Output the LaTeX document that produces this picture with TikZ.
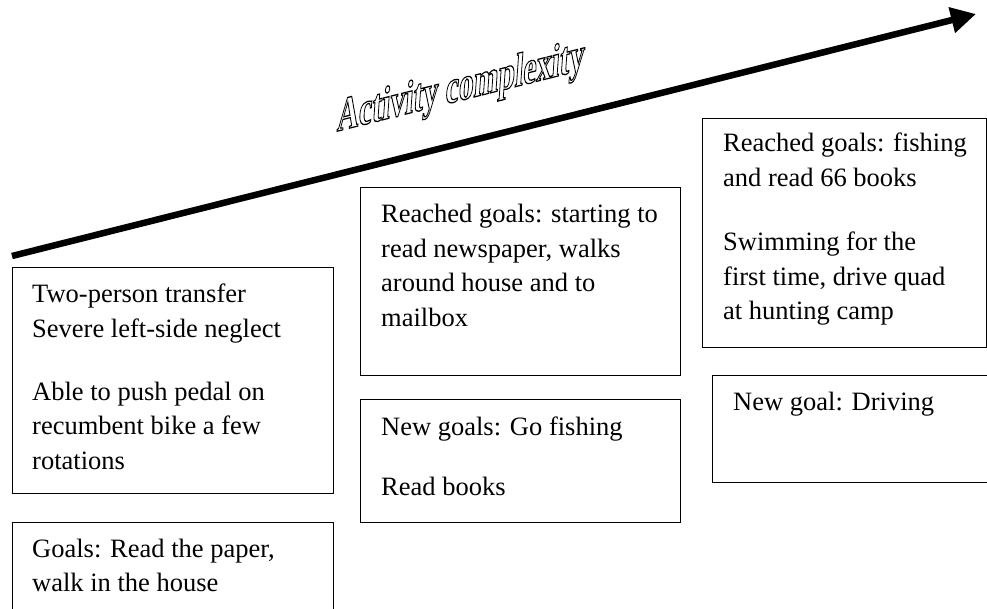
\documentclass[tikz,border=0pt]{standalone}
\usepackage{fontspec}
\setmainfont{Liberation Serif}
\usetikzlibrary{arrows.meta}
\newcommand{\outlinetext}[1]{\special{pdf:literal direct 1 Tr 1.3 w}#1\special{pdf:literal direct 0 Tr}}
\begin{document}
\begin{tikzpicture}[x=1pt,y=-1pt,
  box/.style={draw=black, line width=1.3pt, anchor=north west, inner sep=0pt, fill=none},
  txt/.style={anchor=base west, inner sep=0pt, font=\fontsize{26.5}{34.5}\selectfont},
  bigarrow/.style={line width=6.5pt, -{Triangle[length=25pt,width=25pt]}},
  ttlstyle/.style={inner sep=0pt, cm={0.62,0.155,0.07,1,(0,0)}, font=\bfseries\fontsize{48}{48}\selectfont}
]
\useasboundingbox (0,0) rectangle (987,609);
\clip (0,0) rectangle (987,609);

% arrow
\coordinate (arrowstart) at (12,256);
\coordinate (arrowend) at (976,14);
\draw[bigarrow] (arrowstart) -- (arrowend);

% title
\node[ttlstyle] (ttl) at (461,89) {\outlinetext{Activity complexity}};

% boxes
\node[box, minimum width=321pt, minimum height=226pt] (b1) at (12,267) {};
\node[box, minimum width=321pt, minimum height=130pt] (b2) at (12,522) {};
\node[box, minimum width=320pt, minimum height=188pt] (b3) at (360,187) {};
\node[box, minimum width=320pt, minimum height=123pt] (b4) at (360,399) {};
\node[box, minimum width=284pt, minimum height=229pt] (b5) at (702,118) {};
\node[box, minimum width=295pt, minimum height=107pt] (b6) at (712,375) {};

% texts
\node[txt] (t1) at (32,303) {\begin{tabular}[t]{@{}l@{}}Two-person transfer\\Severe left-side neglect\\[28pt]Able to push pedal on\\recumbent bike a few\\rotations\end{tabular}};
\node[txt] (t2) at (32,557) {\begin{tabular}[t]{@{}l@{}}Goals: Read the paper,\\walk in the house\end{tabular}};
\node[txt] (t3) at (381,223) {\begin{tabular}[t]{@{}l@{}}Reached goals: starting to\\read newspaper, walks\\around house and to\\mailbox\end{tabular}};
\node[txt] (t4) at (381,435) {\begin{tabular}[t]{@{}l@{}}New goals: Go fishing\\[25.5pt]Read books\end{tabular}};
\node[txt] (t5) at (723,152) {\begin{tabular}[t]{@{}l@{}}Reached goals: fishing\\and read 66 books\\[30pt]Swimming for the\\first time, drive quad\\at hunting camp\end{tabular}};
\node[txt] (t6) at (733,410) {New goal: Driving};
\end{tikzpicture}
\end{document}
